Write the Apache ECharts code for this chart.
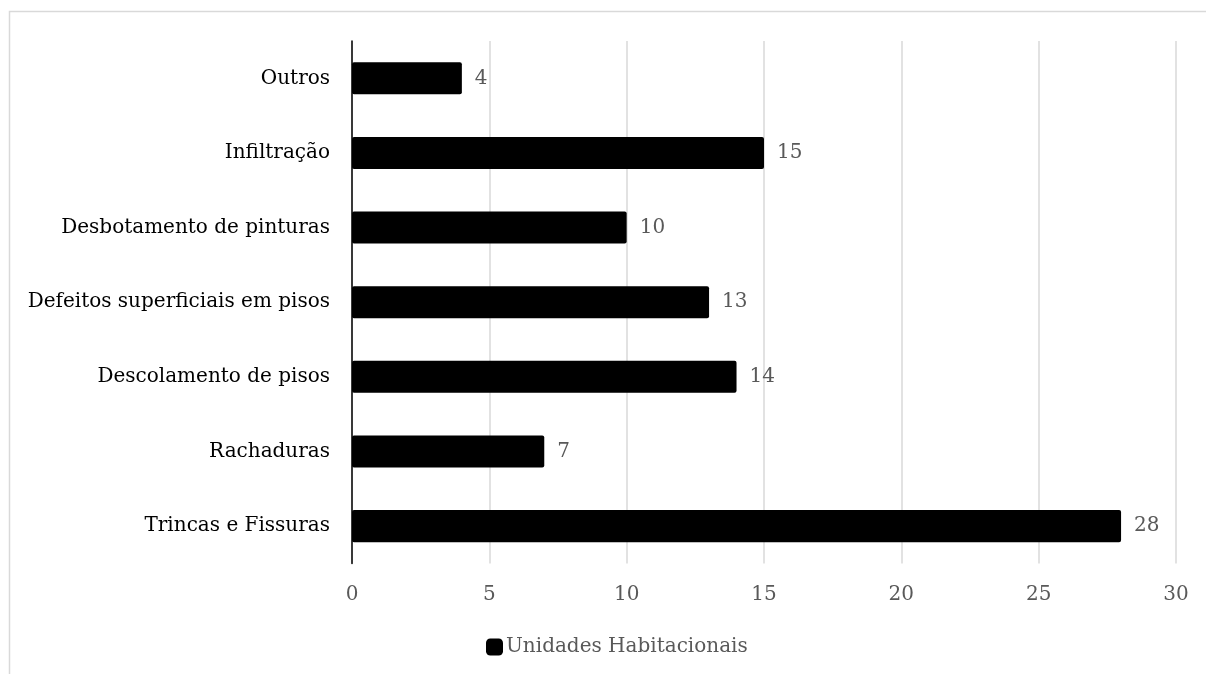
<!DOCTYPE html>
<html><head><meta charset="utf-8">
<script src="https://cdn.jsdelivr.net/npm/echarts@6/dist/echarts.min.js"></script>
<style>html,body{margin:0;padding:0;background:#fff}#c{width:1206px;height:674px}</style>
</head><body><div id="c"></div>
<script>
const categories = ["Trincas e Fissuras","Rachaduras","Descolamento de pisos","Defeitos superficiais em pisos","Desbotamento de pinturas","Infiltração","Outros"];
const values = [28,7,14,13,10,15,4];
const seriesName = "Unidades Habitacionais";
const xTicks = {min:0,max:30,interval:5};
const FONT = "DejaVu Serif";
const chart = echarts.init(document.getElementById('c'));
chart.setOption({
  animation:false,
  backgroundColor:'#fff',
  textStyle:{fontFamily:FONT},
  graphic:[{type:'rect',shape:{x:9.5,y:11.5,width:1300,height:800},style:{fill:'none',stroke:'#d9d9d9',lineWidth:1.5},silent:true}],
  grid:{left:352,right:30,top:41,bottom:110.6,containLabel:false},
  legend:{show:true,top:632,left:481,itemWidth:17,itemHeight:17,itemGap:4,
    icon:'roundRect',
    textStyle:{fontFamily:FONT,fontSize:20,color:'#595959',padding:[0,0,0,-2]},
    data:[seriesName]},
  xAxis:{type:'value',min:xTicks.min,max:xTicks.max,interval:xTicks.interval,
    axisLine:{show:false},axisTick:{show:false},
    splitLine:{lineStyle:{color:'#d9d9d9',width:1.5}},
    axisLabel:{color:'#595959',fontFamily:FONT,fontSize:20,margin:21}},
  yAxis:{type:'category',data:categories,
    axisLine:{show:true,lineStyle:{color:'#000',width:1.5}},
    axisTick:{show:false},
    axisLabel:{color:'#000',fontFamily:FONT,fontSize:20,margin:22}},
  series:[{name:seriesName,type:'bar',data:values,barWidth:'43%',
    itemStyle:{color:'#000',borderRadius:2},
    label:{show:true,position:'right',distance:13,color:'#595959',fontFamily:FONT,fontSize:20}}]
});
</script></body></html>
